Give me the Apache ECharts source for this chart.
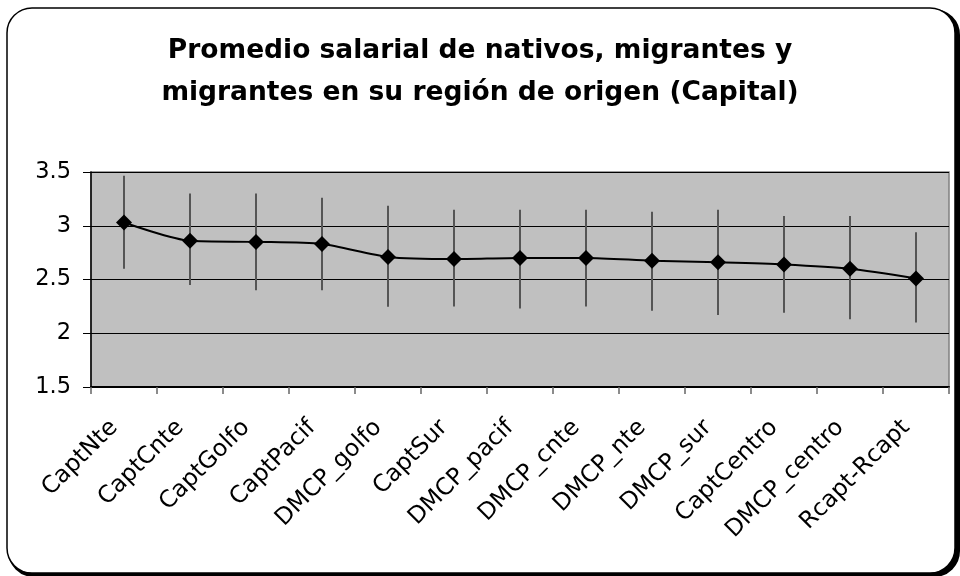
<!DOCTYPE html>
<html>
<head>
<meta charset="utf-8">
<script src="https://cdn.jsdelivr.net/npm/echarts@6/dist/echarts.min.js"></script>
<style>html,body{margin:0;padding:0;background:#fff}#c{width:960px;height:576px}</style>
</head>
<body>
<div id="c"></div>
<script>
const categories = ['CaptNte','CaptCnte','CaptGolfo','CaptPacif','DMCP_golfo','CaptSur','DMCP_pacif','DMCP_cnte','DMCP_nte','DMCP_sur','CaptCentro','DMCP_centro','Rcapt-Rcapt'];
const means = [3.03, 2.86, 2.85, 2.83, 2.71, 2.69, 2.70, 2.70, 2.675, 2.66, 2.64, 2.60, 2.51];
const upper = [3.465, 3.30, 3.30, 3.26, 3.185, 3.15, 3.15, 3.15, 3.13, 3.15, 3.09, 3.09, 2.94];
const lower = [2.60, 2.45, 2.40, 2.40, 2.246, 2.25, 2.23, 2.25, 2.21, 2.17, 2.19, 2.13, 2.10];
const yTicks = [1.5, 2, 2.5, 3, 3.5];
const titleText = 'Promedio salarial de nativos, migrantes y\nmigrantes en su región de origen (Capital)';

const chart = echarts.init(document.getElementById('c'), null, {renderer: 'canvas'});
const errData = categories.map((c, i) => [i, lower[i], upper[i]]);
const font = '"DejaVu Sans", sans-serif';

chart.setOption({
  animation: false,
  backgroundColor: 'transparent',
  graphic: [
    {type: 'rect', z: -10, shape: {x: 9, y: 10, width: 950, height: 566, r: 25}, style: {fill: '#000', stroke: '#000', lineWidth: 2}},
    {type: 'rect', z: -9, shape: {x: 7, y: 8, width: 948, height: 565, r: 25}, style: {fill: '#fff', stroke: '#000', lineWidth: 1.5}}
  ],
  title: {
    text: titleText,
    left: 'center',
    top: 25,
    padding: [5, 0, 5, 14],
    textStyle: {fontFamily: font, fontWeight: 'bold', fontSize: 26.5, lineHeight: 42, color: '#000'}
  },
  grid: {left: 91, right: 11, top: 172, bottom: 189, show: true, backgroundColor: '#c0c0c0', borderColor: '#808080', borderWidth: 1.5},
  xAxis: {
    type: 'category',
    data: categories,
    boundaryGap: true,
    axisLine: {lineStyle: {color: '#000', width: 2}},
    axisTick: {show: true, length: 7, lineStyle: {color: '#666', width: 1.5}},
    axisLabel: {rotate: 45, fontFamily: font, fontSize: 23.5, color: '#000', margin: 27, interval: 0, padding: [0, 14, 0, 0]},
    splitLine: {show: false}
  },
  yAxis: {
    type: 'value',
    min: 1.5, max: 3.5, interval: 0.5,
    axisLine: {show: true, lineStyle: {color: '#000', width: 1.5}},
    axisTick: {show: true, length: 8, lineStyle: {color: '#000'}},
    axisLabel: {fontFamily: font, fontSize: 22.5, color: '#000', margin: 20,
      formatter: v => yTicks.includes(v) ? String(v) : ''},
    splitLine: {show: true, lineStyle: {color: '#000', width: 1}}
  },
  series: [
    {
      type: 'custom',
      z: 2,
      data: errData,
      renderItem: function (params, api) {
        const x = api.value(0);
        const p1 = api.coord([x, api.value(1)]);
        const p2 = api.coord([x, api.value(2)]);
        return {type: 'line', shape: {x1: p1[0], y1: p1[1], x2: p2[0], y2: p2[1]}, style: {stroke: '#555', lineWidth: 2}};
      },
      encode: {x: 0, y: [1, 2]}
    },
    {
      type: 'line',
      z: 3,
      data: means,
      smooth: 0.25,
      symbol: 'diamond',
      symbolSize: 16,
      itemStyle: {color: '#000'},
      lineStyle: {color: '#000', width: 2}
    }
  ]
});
</script>
</body>
</html>
